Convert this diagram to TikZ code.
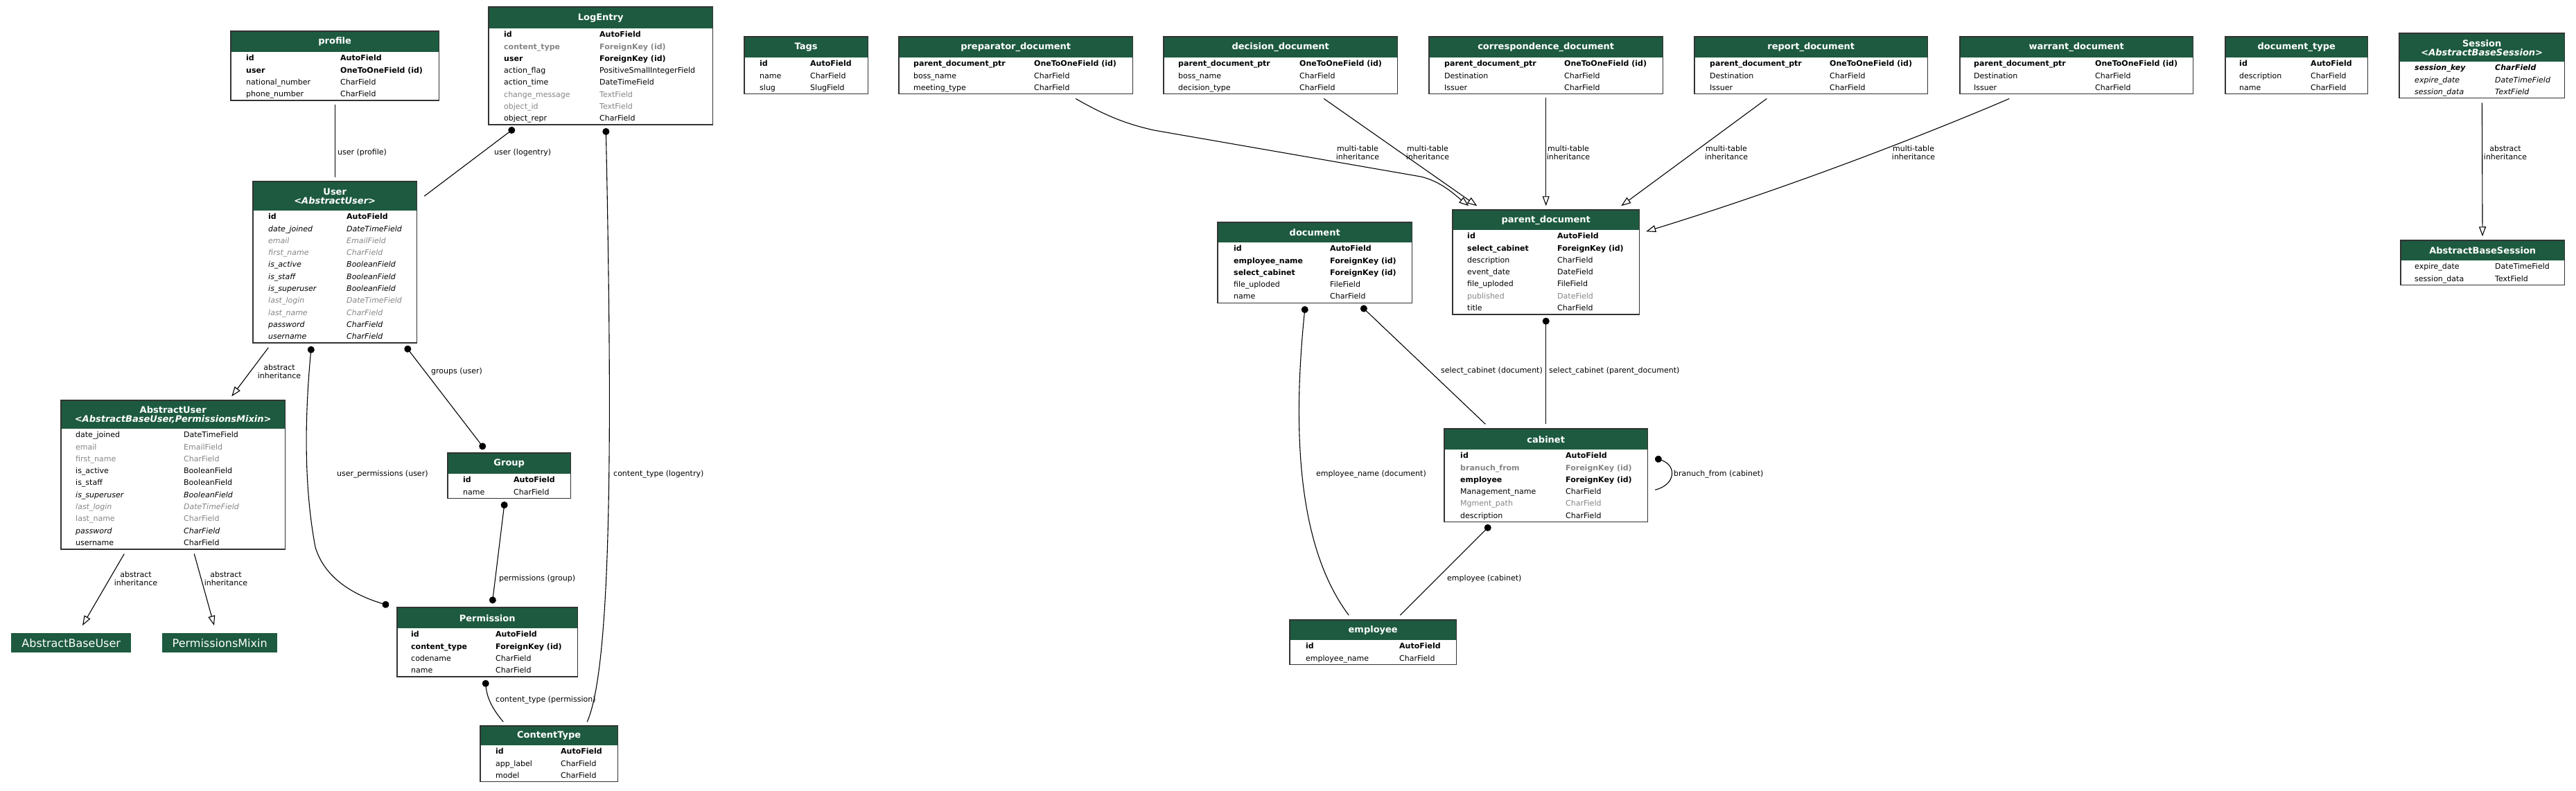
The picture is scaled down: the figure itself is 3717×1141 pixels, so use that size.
\documentclass[tikz,border=0pt]{standalone}
\usepackage{fontspec}
\setmainfont{DejaVu Sans}[ItalicFont={DejaVu Sans Oblique},BoldItalicFont={DejaVu Sans Bold Oblique}]
\usepackage{array}
\usepackage{xcolor}
\usepackage{tikz}
\usetikzlibrary{arrows.meta, positioning, fit}
\definecolor{hdr}{HTML}{1D5A40}
\definecolor{mute}{HTML}{858585}
\newcommand{\fade}{\color{mute}}
\setlength{\tabcolsep}{0pt}
\tikzset{
  tblhead/.style={anchor=north west, fill=hdr, text=white, inner sep=0pt, align=center, font=\bfseries\fontsize{13}{13}\selectfont},
  tblbody/.style={inner sep=0pt, font=\fontsize{11}{17.3}\selectfont},
  tblframe/.style={draw=black!80, line width=1.5pt, inner sep=0pt},
  leafbox/.style={anchor=north west, fill=hdr, text=white, inner sep=0pt, font=\fontsize{16}{16}\selectfont},
  edgelbl/.style={inner sep=0pt, align=center, font=\fontsize{11}{12}\selectfont},
  plainline/.style={line width=1.1pt},
  fkline/.style={plainline, {Circle[length=10pt]}-},
  mmline/.style={plainline, {Circle[length=10pt]}-{Circle[length=10pt]}},
  inhline/.style={plainline, -{Triangle[open, length=14pt, width=10pt]}}
}

\begin{document}
\begin{tikzpicture}[x=1pt, y=-1pt]
\useasboundingbox (0,0) rectangle (3717,1141);

\node [tblhead, minimum width=300pt, minimum height=30pt] (profile-h) at (333,45) {profile};
\node [tblbody, below=0pt of profile-h] (profile-t) {\begin{tabular}{@{\hspace{22pt}}w{l}{136pt}w{l}{142pt}}
\textbf{id} & \textbf{AutoField}\\
\textbf{user} & \textbf{OneToOneField (id)}\\
national\_number & CharField\\
phone\_number & CharField
\end{tabular}};
\node [tblframe, fit=(profile-h)(profile-t)] (profile) {};

\node [tblhead, minimum width=323pt, minimum height=31pt] (logentry-h) at (705,10) {LogEntry};
\node [tblbody, below=0pt of logentry-h] (logentry-t) {\begin{tabular}{@{\hspace{22pt}}w{l}{138pt}w{l}{163pt}}
\textbf{id} & \textbf{AutoField}\\
\fade\bfseries content\_type & \fade\bfseries ForeignKey (id)\\
\textbf{user} & \textbf{ForeignKey (id)}\\
action\_flag & PositiveSmallIntegerField\\
action\_time & DateTimeField\\
\fade change\_message & \fade TextField\\
\fade object\_id & \fade TextField\\
object\_repr & CharField
\end{tabular}};
\node [tblframe, fit=(logentry-h)(logentry-t)] (logentry) {};

\node [tblhead, minimum width=236pt, minimum height=42pt] (user-h) at (365,262) {User\\\textit{<AbstractUser>}};
\node [tblbody, below=0pt of user-h] (user-t) {\begin{tabular}{@{\hspace{22pt}}w{l}{113pt}w{l}{101pt}}
\textbf{id} & \textbf{AutoField}\\
\itshape date\_joined & \itshape DateTimeField\\
\fade\itshape email & \fade\itshape EmailField\\
\fade\itshape first\_name & \fade\itshape CharField\\
\itshape is\_active & \itshape BooleanField\\
\itshape is\_staff & \itshape BooleanField\\
\itshape is\_superuser & \itshape BooleanField\\
\fade\itshape last\_login & \fade\itshape DateTimeField\\
\fade\itshape last\_name & \fade\itshape CharField\\
\itshape password & \itshape CharField\\
\itshape username & \itshape CharField
\end{tabular}};
\node [tblframe, fit=(user-h)(user-t)] (user) {};

\node [tblhead, minimum width=323pt, minimum height=41pt] (abstractuser-h) at (88,578) {AbstractUser\\\textit{<AbstractBaseUser,PermissionsMixin>}};
\node [tblbody, below=0pt of abstractuser-h] (abstractuser-t) {\begin{tabular}{@{\hspace{21pt}}w{l}{156pt}w{l}{146pt}}
date\_joined & DateTimeField\\
\fade email & \fade EmailField\\
\fade first\_name & \fade CharField\\
is\_active & BooleanField\\
is\_staff & BooleanField\\
\itshape is\_superuser & \itshape BooleanField\\
\fade\itshape last\_login & \fade\itshape DateTimeField\\
\fade last\_name & \fade CharField\\
\itshape password & \itshape CharField\\
username & CharField
\end{tabular}};
\node [tblframe, fit=(abstractuser-h)(abstractuser-t)] (abstractuser) {};

\node [leafbox, minimum width=173pt, minimum height=28pt] (abstractbaseuser) at (16,914) {AbstractBaseUser};
\node [leafbox, minimum width=166pt, minimum height=28pt] (permissionsmixin) at (234,914) {PermissionsMixin};

\node [tblhead, minimum width=177pt, minimum height=30pt] (group-h) at (646,654) {Group};
\node [tblbody, below=0pt of group-h] (group-t) {\begin{tabular}{@{\hspace{22pt}}w{l}{73pt}w{l}{82pt}}
\textbf{id} & \textbf{AutoField}\\
name & CharField
\end{tabular}};
\node [tblframe, fit=(group-h)(group-t)] (group) {};

\node [tblhead, minimum width=260pt, minimum height=30pt] (permission-h) at (573,877) {Permission};
\node [tblbody, below=0pt of permission-h] (permission-t) {\begin{tabular}{@{\hspace{20pt}}w{l}{122pt}w{l}{118pt}}
\textbf{id} & \textbf{AutoField}\\
\textbf{content\_type} & \textbf{ForeignKey (id)}\\
codename & CharField\\
name & CharField
\end{tabular}};
\node [tblframe, fit=(permission-h)(permission-t)] (permission) {};

\node [tblhead, minimum width=198pt, minimum height=28pt] (contenttype-h) at (693,1048) {ContentType};
\node [tblbody, below=0pt of contenttype-h] (contenttype-t) {\begin{tabular}{@{\hspace{22pt}}w{l}{94pt}w{l}{82pt}}
\textbf{id} & \textbf{AutoField}\\
app\_label & CharField\\
model & CharField
\end{tabular}};
\node [tblframe, fit=(contenttype-h)(contenttype-t)] (contenttype) {};

\node [tblhead, minimum width=178pt, minimum height=30pt] (tags-h) at (1074,53) {Tags};
\node [tblbody, below=0pt of tags-h] (tags-t) {\begin{tabular}{@{\hspace{22pt}}w{l}{73pt}w{l}{83pt}}
\textbf{id} & \textbf{AutoField}\\
name & CharField\\
slug & SlugField
\end{tabular}};
\node [tblframe, fit=(tags-h)(tags-t)] (tags) {};

\node [tblhead, minimum width=337pt, minimum height=30pt] (preparator-h) at (1297,53) {preparator\_document};
\node [tblbody, below=0pt of preparator-h] (preparator-t) {\begin{tabular}{@{\hspace{21pt}}w{l}{174pt}w{l}{142pt}}
\textbf{parent\_document\_ptr} & \textbf{OneToOneField (id)}\\
boss\_name & CharField\\
meeting\_type & CharField
\end{tabular}};
\node [tblframe, fit=(preparator-h)(preparator-t)] (preparator) {};

\node [tblhead, minimum width=337pt, minimum height=30pt] (decision-h) at (1679,53) {decision\_document};
\node [tblbody, below=0pt of decision-h] (decision-t) {\begin{tabular}{@{\hspace{21pt}}w{l}{175pt}w{l}{141pt}}
\textbf{parent\_document\_ptr} & \textbf{OneToOneField (id)}\\
boss\_name & CharField\\
decision\_type & CharField
\end{tabular}};
\node [tblframe, fit=(decision-h)(decision-t)] (decision) {};

\node [tblhead, minimum width=337pt, minimum height=30pt] (correspondence-h) at (2062,53) {correspondence\_document};
\node [tblbody, below=0pt of correspondence-h] (correspondence-t) {\begin{tabular}{@{\hspace{22pt}}w{l}{173pt}w{l}{142pt}}
\textbf{parent\_document\_ptr} & \textbf{OneToOneField (id)}\\
Destination & CharField\\
Issuer & CharField
\end{tabular}};
\node [tblframe, fit=(correspondence-h)(correspondence-t)] (correspondence) {};

\node [tblhead, minimum width=336pt, minimum height=30pt] (report-h) at (2445,53) {report\_document};
\node [tblbody, below=0pt of report-h] (report-t) {\begin{tabular}{@{\hspace{22pt}}w{l}{173pt}w{l}{141pt}}
\textbf{parent\_document\_ptr} & \textbf{OneToOneField (id)}\\
Destination & CharField\\
Issuer & CharField
\end{tabular}};
\node [tblframe, fit=(report-h)(report-t)] (report) {};

\node [tblhead, minimum width=336pt, minimum height=30pt] (warrant-h) at (2828,53) {warrant\_document};
\node [tblbody, below=0pt of warrant-h] (warrant-t) {\begin{tabular}{@{\hspace{20pt}}w{l}{175pt}w{l}{141pt}}
\textbf{parent\_document\_ptr} & \textbf{OneToOneField (id)}\\
Destination & CharField\\
Issuer & CharField
\end{tabular}};
\node [tblframe, fit=(warrant-h)(warrant-t)] (warrant) {};

\node [tblhead, minimum width=205pt, minimum height=30pt] (doctype-h) at (3211,53) {document\_type};
\node [tblbody, below=0pt of doctype-h] (doctype-t) {\begin{tabular}{@{\hspace{20pt}}w{l}{103pt}w{l}{82pt}}
\textbf{id} & \textbf{AutoField}\\
description & CharField\\
name & CharField
\end{tabular}};
\node [tblframe, fit=(doctype-h)(doctype-t)] (doctype) {};

\node [tblhead, minimum width=238pt, minimum height=41pt] (session-h) at (3462,48) {Session\\\textit{<AbstractBaseSession>}};
\node [tblbody, below=0pt of session-h] (session-t) {\begin{tabular}{@{\hspace{22pt}}w{l}{116pt}w{l}{100pt}}
\bfseries\itshape session\_key & \bfseries\itshape CharField\\
\itshape expire\_date & \itshape DateTimeField\\
\itshape session\_data & \itshape TextField
\end{tabular}};
\node [tblframe, fit=(session-h)(session-t)] (session) {};

\node [tblhead, minimum width=236pt, minimum height=29pt] (abssession-h) at (3464,347) {AbstractBaseSession};
\node [tblbody, below=0pt of abssession-h] (abssession-t) {\begin{tabular}{@{\hspace{20pt}}w{l}{116pt}w{l}{100pt}}
expire\_date & DateTimeField\\
session\_data & TextField
\end{tabular}};
\node [tblframe, fit=(abssession-h)(abssession-t)] (abssession) {};

\node [tblhead, minimum width=280pt, minimum height=29pt] (document-h) at (1757,321) {document};
\node [tblbody, below=0pt of document-h] (document-t) {\begin{tabular}{@{\hspace{23pt}}w{l}{139pt}w{l}{118pt}}
\textbf{id} & \textbf{AutoField}\\
\textbf{employee\_name} & \textbf{ForeignKey (id)}\\
\textbf{select\_cabinet} & \textbf{ForeignKey (id)}\\
file\_uploded & FileField\\
name & CharField
\end{tabular}};
\node [tblframe, fit=(document-h)(document-t)] (document) {};

\node [tblhead, minimum width=269pt, minimum height=29pt] (parentdoc-h) at (2096,303) {parent\_document};
\node [tblbody, below=0pt of parentdoc-h] (parentdoc-t) {\begin{tabular}{@{\hspace{21pt}}w{l}{130pt}w{l}{118pt}}
\textbf{id} & \textbf{AutoField}\\
\textbf{select\_cabinet} & \textbf{ForeignKey (id)}\\
description & CharField\\
event\_date & DateField\\
file\_uploded & FileField\\
\fade published & \fade DateField\\
title & CharField
\end{tabular}};
\node [tblframe, fit=(parentdoc-h)(parentdoc-t)] (parentdoc) {};

\node [tblhead, minimum width=293pt, minimum height=30pt] (cabinet-h) at (2084,619) {cabinet};
\node [tblbody, below=0pt of cabinet-h] (cabinet-t) {\begin{tabular}{@{\hspace{23pt}}w{l}{152pt}w{l}{118pt}}
\textbf{id} & \textbf{AutoField}\\
\fade\bfseries branuch\_from & \fade\bfseries ForeignKey (id)\\
\textbf{employee} & \textbf{ForeignKey (id)}\\
Management\_name & CharField\\
\fade Mgment\_path & \fade CharField\\
description & CharField
\end{tabular}};
\node [tblframe, fit=(cabinet-h)(cabinet-t)] (cabinet) {};

\node [tblhead, minimum width=240pt, minimum height=29pt] (employee-h) at (1861,895) {employee};
\node [tblbody, below=0pt of employee-h] (employee-t) {\begin{tabular}{@{\hspace{23pt}}w{l}{135pt}w{l}{82pt}}
\textbf{id} & \textbf{AutoField}\\
employee\_name & CharField
\end{tabular}};
\node [tblframe, fit=(employee-h)(employee-t)] (employee) {};

\draw [plainline, shorten <=5pt, shorten >=5pt] (profile) -- (user);
\node [edgelbl, anchor=west] (lbl-userprofile) at (487,220) {user (profile)};
\draw [fkline] ([xshift=38pt,yshift=-4pt]logentry.south west) -- ([xshift=10pt,yshift=-22pt]user.north east);
\node [edgelbl, anchor=west] (lbl-userlog) at (713,220) {user (logentry)};
\draw [fkline] ([xshift=170pt,yshift=-4pt]logentry.south west) .. controls (883,600) and (884,960) .. ([xshift=-45pt,yshift=5pt]contenttype.north east);
\node [edgelbl, anchor=west] (lbl-ctlog) at (885,685) {content\_type (logentry)};
\draw [inhline] ([xshift=23pt,yshift=-6pt]user.south west) -- ([xshift=247pt,yshift=5pt]abstractuser.north west);
\node [edgelbl] (lbl-absuser) at (403,536) {abstract\\inheritance};
\draw [mmline] ([xshift=85pt,yshift=-4pt]user.south west) .. controls (440,600) and (438,700) .. (455,790) .. controls (470,840) and (520,862) .. ([xshift=-11pt,yshift=2pt]permission.north west);
\node [edgelbl, anchor=west] (lbl-userperm) at (486,685) {user\_permissions (user)};
\draw [mmline] ([xshift=221pt,yshift=-4pt]user.south west) -- ([xshift=54pt,yshift=5pt]group.north west);
\node [edgelbl, anchor=west] (lbl-groups) at (622,536) {groups (user)};
\draw [mmline] ([xshift=83pt,yshift=-4pt]group.south west) -- ([xshift=138pt,yshift=5pt]permission.north west);
\node [edgelbl, anchor=west] (lbl-perms) at (720,835) {permissions (group)};
\draw [fkline] ([xshift=128pt,yshift=-4pt]permission.south west) .. controls (703,1010) and (712,1025) .. ([xshift=34pt,yshift=5pt]contenttype.north west);
\node [edgelbl, anchor=west] (lbl-ctperm) at (715,1011) {content\_type (permission)};
\draw [inhline] ([xshift=92pt,yshift=-6pt]abstractuser.south west) -- ([xshift=103pt,yshift=11pt]abstractbaseuser.north west);
\node [edgelbl] (lbl-absbase) at (196,835) {abstract\\inheritance};
\draw [inhline] ([xshift=193pt,yshift=-6pt]abstractuser.south west) -- ([xshift=75pt,yshift=11pt]permissionsmixin.north west);
\node [edgelbl] (lbl-absmixin) at (326,835) {abstract\\inheritance};

\draw [inhline] ([xshift=256pt,yshift=-6pt]preparator.south west) .. controls (1600,170) and (1630,180) .. (1665,188) -- (2050,255) .. controls (2080,262) and (2100,282) .. ([xshift=24pt,yshift=5pt]parentdoc.north west);
\node [edgelbl] (lbl-prep) at (1959,220) {multi-table\\inheritance};
\draw [inhline] ([xshift=232pt,yshift=-6pt]decision.south west) -- ([xshift=36pt,yshift=5pt]parentdoc.north west);
\node [edgelbl] (lbl-dec) at (2060,220) {multi-table\\inheritance};
\draw [inhline, shorten <=5pt, shorten >=5pt] (correspondence) -- (parentdoc);
\node [edgelbl] (lbl-corr) at (2263,220) {multi-table\\inheritance};
\draw [inhline] ([xshift=105pt,yshift=-6pt]report.south west) -- ([xshift=244pt,yshift=5pt]parentdoc.north west);
\node [edgelbl] (lbl-rep) at (2491,220) {multi-table\\inheritance};
\draw [inhline] ([xshift=72pt,yshift=-6pt]warrant.south west) .. controls (2800,185) and (2600,265) .. ([xshift=9pt,yshift=-32pt]parentdoc.north east);
\node [edgelbl] (lbl-war) at (2761,220) {multi-table\\inheritance};
\draw [inhline, shorten <=6pt, shorten >=5pt] (session) -- (abssession);
\node [edgelbl] (lbl-sess) at (3615,220) {abstract\\inheritance};

\draw [fkline] ([xshift=208pt,yshift=-4pt]document.south west) -- ([xshift=60pt,yshift=6pt]cabinet.north west);
\node [edgelbl, anchor=east] (lbl-cabdoc) at (2226,536) {select\_cabinet (document)};
\draw [fkline, shorten <=4pt, shorten >=6pt] (parentdoc) -- (cabinet);
\node [edgelbl, anchor=west] (lbl-cabparent) at (2235,536) {select\_cabinet (parent\_document)};
\draw [fkline] ([xshift=127pt,yshift=-4pt]document.south west) .. controls (1862,650) and (1880,800) .. ([xshift=86pt,yshift=6pt]employee.north west);
\node [edgelbl, anchor=west] (lbl-empdoc) at (1899,685) {employee\_name (document)};
\draw [fkline] ([xshift=67pt,yshift=-4pt]cabinet.south west) -- ([xshift=160pt,yshift=6pt]employee.north west);
\node [edgelbl, anchor=west] (lbl-empcab) at (2088,835) {employee (cabinet)};
\draw [fkline] ([xshift=10pt,yshift=-43pt]cabinet.north east) .. controls (2420,672) and (2418,700) .. ([xshift=10pt,yshift=-89pt]cabinet.north east);
\node [edgelbl, anchor=west] (lbl-branch) at (2415,685) {branuch\_from (cabinet)};
\end{tikzpicture}
\end{document}
